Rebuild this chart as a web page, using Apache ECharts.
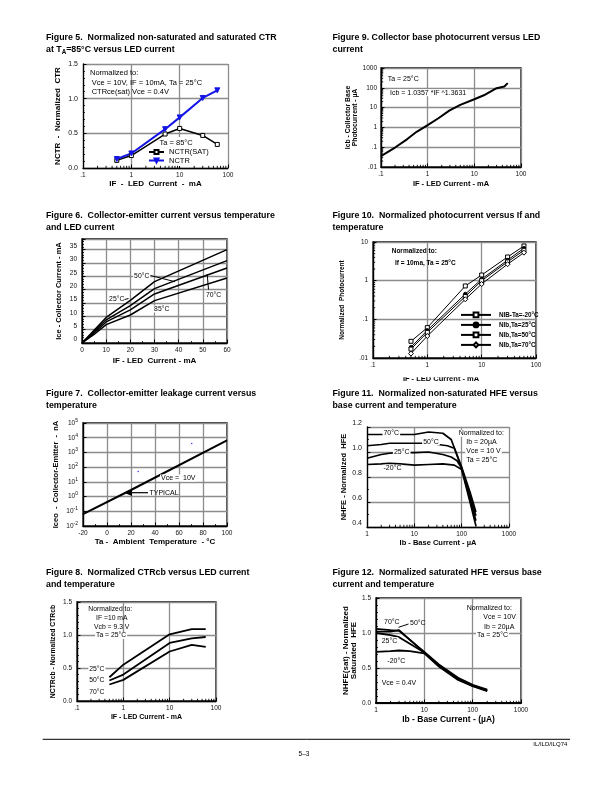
<!DOCTYPE html>
<html><head><meta charset="utf-8">
<script src="https://cdn.jsdelivr.net/npm/echarts@6/dist/echarts.min.js"></script>
<style>html,body{margin:0;padding:0;background:#fff}#c{width:612px;height:792px}</style>
</head><body><div id="c"></div>
<script>
// ---------------- DATA ----------------
// Figure 5
const fig5_if = [0.5, 1, 5, 10, 30, 60];
const fig5_nctrSat = [0.11, 0.18, 0.49, 0.57, 0.47, 0.34];
const fig5_nctr = [0.13, 0.21, 0.56, 0.73, 1.01, 1.12];
const fig5_xTicks = ['.1', '1', '10', '100'];
// Figure 9
const fig9_if = [0.1, 0.13, 0.2, 0.36, 0.58, 1, 1.7, 2.9, 5, 10, 16, 30, 44, 52];
const fig9_icb = [0.035, 0.052, 0.096, 0.25, 0.6, 1.3, 2.9, 7, 13.7, 26.5, 42, 96, 117, 173];
const fig9_xTicks = ['.1', '1', '10', '100'];
const fig9_yTicks = ['.01', '.1', '1', '10', '100', '1000'];
// Figure 6
const fig6_if = [0, 5, 10, 20, 30, 60];
const fig6_ice25 = [0, 4.8, 9.6, 16, 23, 35];
const fig6_ice50 = [0, 4.3, 8.7, 14, 20.4, 30.9];
const fig6_ice70 = [0, 3.8, 7.9, 12.4, 18.4, 28.1];
const fig6_ice85 = [0, 3.2, 6.9, 10.5, 15.9, 24.4];
// Figure 10
const fig10_if = [0.5, 1, 5, 10, 30, 60];
const fig10_m20 = [0.027, 0.061, 0.73, 1.4, 4.1, 7.9];
const fig10_25 = [0.019, 0.052, 0.45, 1.1, 3.4, 6.9];
const fig10_50 = [0.017, 0.046, 0.39, 1.0, 3.07, 6.1];
const fig10_70 = [0.013, 0.037, 0.33, 0.82, 2.67, 5.3];
const fig10_xTicks = ['.1', '1', '10', '100'];
const fig10_yTicks = ['.01', '.1', '1', '10'];
// Figure 7
const fig7_ta = [-20, 20, 100];
const fig7_iceo = [0.065, 2.8, 6700];
const fig7_dotsTa = [26, 70.6];
const fig7_dotsIceo = [51, 4000];
// Figure 11
const fig11_ib70 = [1, 2, 3, 5, 10, 20, 40, 60, 100, 150, 200];
const fig11_h70 = [1.14, 1.14, 1.14, 1.14, 1.14, 1.16, 1.15, 1.10, 0.88, 0.68, 0.52];
const fig11_ib50 = [1, 2, 3, 5, 10, 20, 50, 70, 100, 150, 200];
const fig11_h50 = [1.05, 1.06, 1.07, 1.07, 1.07, 1.07, 1.05, 1.03, 0.87, 0.65, 0.49];
const fig11_ib25 = [1, 2, 3, 5, 10, 20, 40, 60, 80, 100, 150, 200];
const fig11_h25 = [0.95, 0.98, 0.99, 0.995, 0.995, 1.0, 0.98, 0.96, 0.93, 0.87, 0.62, 0.45];
const fig11_ibm20 = [1, 2, 3, 5, 10, 20, 40, 70, 100, 150, 200];
const fig11_hm20 = [0.90, 0.905, 0.91, 0.905, 0.895, 0.90, 0.905, 0.895, 0.86, 0.60, 0.41];
const fig11_xTicks = ['1', '10', '100', '1000'];
// Figure 8
const fig8_if = [0.5, 1, 10, 30, 60];
const fig8_c25 = [0.36, 0.55, 1.01, 1.09, 1.09];
const fig8_c50 = [0.31, 0.40, 0.88, 0.95, 0.97];
const fig8_c70 = [0.25, 0.32, 0.75, 0.85, 0.82];
const fig8_xTicks = ['.1', '1', '10', '100'];
// Figure 12
const fig12_ib = [1, 2, 3, 10, 20, 50, 100, 200];
const fig12_h70 = [1.06, 1.04, 1.03, 0.73, 0.55, 0.36, 0.26, 0.19];
const fig12_h50 = [1.02, 1.02, 1.04, 0.72, 0.54, 0.35, 0.25, 0.18];
const fig12_h25 = [1.0, 0.97, 0.94, 0.72, 0.53, 0.34, 0.245, 0.175];
const fig12_ibm20 = [1, 2, 3, 5, 10, 20, 50, 100, 200];
const fig12_hm20 = [0.73, 0.74, 0.75, 0.74, 0.71, 0.52, 0.33, 0.24, 0.17];
const fig12_xTicks = ['1', '10', '100', '1000'];
// minor tick positions for log axes
const minor_01_100 = [0.2,0.3,0.4,0.5,0.6,0.7,0.8,0.9,2,3,4,5,6,7,8,9,20,30,40,50,60,70,80,90];
const minor_1_1000 = [2,3,4,5,6,7,8,9,20,30,40,50,60,70,80,90,200,300,400,500,600,700,800,900];
const minor_001_1000 = [0.02,0.03,0.04,0.05,0.06,0.07,0.08,0.09,0.2,0.3,0.4,0.5,0.6,0.7,0.8,0.9,2,3,4,5,6,7,8,9,20,30,40,50,60,70,80,90,200,300,400,500,600,700,800,900];
const minor_001_10 = [0.02,0.03,0.04,0.05,0.06,0.07,0.08,0.09,0.2,0.3,0.4,0.5,0.6,0.7,0.8,0.9,2,3,4,5,6,7,8,9];

// ---------------- BUILD ----------------
const FONT = '"Liberation Sans", Arial, Helvetica, sans-serif';
const grid = [], xAxis = [], yAxis = [], series = [], graphic = [], legend = [];

function logFmt(labels, min) {
  return v => { const i = Math.round(Math.log10(v) - Math.log10(min)); return labels[i] !== undefined ? labels[i] : ''; };
}
function mkAxis(gi, a, isX) {
  const o = {
    gridIndex: gi, type: a.type || 'value', min: a.min, max: a.max,
    position: isX ? 'bottom' : 'left',
    axisLine: { show: true, onZero: false, lineStyle: { color: '#000', width: a.lw || 1.3 } },
    axisTick: { show: true, inside: true, length: 3.5, lineStyle: { color: '#000', width: 1 } },
    axisLabel: { show: true, fontFamily: FONT, fontSize: a.fs || 6.5, color: '#111', margin: a.margin || (isX ? 4 : 5),
      formatter: a.fmt, showMinLabel: true, showMaxLabel: true, verticalAlign: a.va, rich: a.rich },
    splitLine: { show: true, lineStyle: { color: '#8c8c8c', width: 1.3 } },
    name: a.name, nameLocation: 'middle', nameGap: a.gap,
    nameTextStyle: { fontFamily: FONT, fontWeight: 'bold', fontSize: a.ns || 7.5, color: '#000', lineHeight: a.nlh },
    splitNumber: a.sn
  };
  if (a.type === 'log') o.logBase = 10;
  if (a.interval) o.interval = a.interval;
  if (!isX) o.nameRotate = 90;
  if (a.minor) o.minorTick = { show: true, splitNumber: a.minor, length: 2, lineStyle: { color: '#000', width: 0.8 } };
  return o;
}
function addPanel(d) {
  const gi = grid.length;
  grid.push({ left: d.g[0], top: d.g[1], width: d.g[2], height: d.g[3], show: !!d.box,
    borderColor: '#000', borderWidth: 1.3, backgroundColor: 'rgba(0,0,0,0)' });
  xAxis.push(mkAxis(gi, d.x, true));
  yAxis.push(mkAxis(gi, d.y, false));
  return gi;
}
function line(gi, name, xs, ys, o = {}) {
  series.push({ type: 'line', name, xAxisIndex: gi, yAxisIndex: gi,
    data: xs.map((x, i) => [x, ys[i]]),
    symbol: o.symbol || 'none', showSymbol: !!o.symbol, symbolSize: o.size || 4, symbolRotate: o.rot || 0,
    lineStyle: { color: o.color || '#000', width: o.width || 1.5 },
    itemStyle: { color: o.fill || o.color || '#000', borderColor: o.color || '#000', borderWidth: 1 },
    silent: true, animation: false, z: o.z || 2, smooth: o.smooth || false });
}
function minorTicks(gi, values, axis, anchor) {
  series.push({ type: 'custom', xAxisIndex: gi, yAxisIndex: gi, silent: true, z: 3, animation: false, clip: false,
    data: values.map(v => axis === 'x' ? [v, anchor] : [anchor, v]),
    renderItem: (params, api) => {
      const p = api.coord([api.value(0), api.value(1)]);
      const L = 2.2;
      return { type: 'line', shape: axis === 'x' ? { x1: p[0], y1: p[1], x2: p[0], y2: p[1] - L } : { x1: p[0], y1: p[1], x2: p[0] + L, y2: p[1] },
        style: { stroke: '#000', lineWidth: 0.9 } };
    } });
}
function T(x, y, text, o = {}) {
  graphic.push({ type: 'text', z: o.z || 100, silent: true,
    style: { x, y, text, fontSize: o.size || 7, fontFamily: FONT, fontWeight: o.bold ? 'bold' : 'normal', fill: '#000',
      align: o.align || 'left', verticalAlign: 'middle',
      backgroundColor: o.bg ? '#fff' : null, padding: o.bg ? [0, 1, 0, 1] : 0, rich: o.rich } });
}
function L(x1, y1, x2, y2, w) {
  graphic.push({ type: 'line', z: 101, silent: true, shape: { x1, y1, x2, y2 }, style: { stroke: '#000', lineWidth: w || 1 } });
}
function R(x, y, w, h, z) {
  graphic.push({ type: 'rect', z: z || 1, silent: true, shape: { x, y, width: w, height: h }, style: { fill: '#fff' } });
}

// ---- Titles ----
const titleRich = { sub: { fontSize: 6.3, fontWeight: 'bold', fontFamily: FONT, padding: [5, 0, 0, 0] } };
function title(x, y, l1, l2) {
  T(x, y, l1, { size: 8.8, bold: true });
  T(x, y + 12, l2, { size: 8.8, bold: true, rich: titleRich });
}
title(46, 37.5, 'Figure 5.  Normalized non-saturated and saturated CTR', 'at T{sub|A}=85°C versus LED current');
title(332.5, 37.5, 'Figure 9. Collector base photocurrent versus LED', 'current');
title(46, 216, 'Figure 6.  Collector-emitter current versus temperature', 'and LED current');
title(332.5, 216, 'Figure 10.  Normalized photocurrent versus If and', 'temperature');
title(46, 394, 'Figure 7.  Collector-emitter leakage current versus', 'temperature');
title(332.5, 394, 'Figure 11.  Normalized non-saturated HFE versus', 'base current and temperature');
title(46, 572.5, 'Figure 8.  Normalized CTRcb versus LED current', 'and temperature');
title(332.5, 572.5, 'Figure 12.  Normalized saturated HFE versus base', 'current and temperature');

// ---- Figure 5 ----
let g = addPanel({ g: [83, 64, 145, 104],
  x: { type: 'log', min: 0.1, max: 100, fmt: logFmt(fig5_xTicks, 0.1), name: 'IF  -  LED  Current  -  mA', gap: 11, ns: 8 },
  y: { min: 0, max: 1.5, interval: 0.5, minor: 5, fmt: v => v.toFixed(1), name: 'NCTR  -  Normalized  CTR', gap: 21.5, ns: 8, fs: 7 } });
minorTicks(g, minor_01_100, 'x', 0);
line(g, 'NCTR(SAT)', fig5_if, fig5_nctrSat, { symbol: 'rect', size: 4, fill: '#fff', width: 1.5 });
line(g, 'NCTR', fig5_if, fig5_nctr, { symbol: 'triangle', rot: 180, size: 5, color: '#1414e6', width: 2 });
R(147, 137, 64, 29, 1);
legend.push({ left: 148, top: 148, orient: 'vertical', itemWidth: 15, itemHeight: 5, itemGap: 0.5, padding: 0,
  selectedMode: false, data: ['NCTR(SAT)', 'NCTR'],
  textStyle: { fontFamily: FONT, fontSize: 7.5, lineHeight: 8, color: '#000' } });
T(159.5, 142.7, 'Ta = 85°C', { size: 7.5 });
T(90, 73.3, 'Normalized to:', { size: 7.5 });
T(91.7, 82.7, 'Vce = 10V, IF = 10mA, Ta = 25°C', { size: 7.5 });
T(91.7, 92, 'CTRce(sat) Vce = 0.4V', { size: 7.5 });

// ---- Figure 9 ----
g = addPanel({ g: [381, 68, 140, 99], box: true,
  x: { type: 'log', min: 0.1, max: 100, fmt: logFmt(fig9_xTicks, 0.1), name: 'IF - LED Current - mA', gap: 13, ns: 7.5 },
  y: { type: 'log', min: 0.01, max: 1000, fmt: logFmt(fig9_yTicks, 0.01), name: 'Icb - Collector Base\nPhotocurrent - µA', gap: 22, ns: 6.8, nlh: 7, margin: 4 } });
minorTicks(g, minor_01_100, 'x', 0.01);
minorTicks(g, minor_001_1000, 'y', 0.1);
line(g, 'Icb', fig9_if, fig9_icb, { width: 2 });
T(386.7, 79.3, 'Ta = 25°C', { size: 7, bg: true });
T(389, 92.7, 'Icb = 1.0357 *IF ^1.3631', { size: 7, bg: true });

// ---- Figure 6 ----
g = addPanel({ g: [82, 239, 145, 104], box: true,
  x: { min: 0, max: 60, interval: 10, minor: 2, name: 'IF - LED  Current - mA', gap: 13.5, ns: 8 },
  y: { min: 0, max: 39, interval: 5, minor: 5, fmt: v => (v % 5 === 0 ? String(v) : ''), va: 'bottom', name: 'Ice - Collector Current - mA', gap: 19.5, ns: 7.5 } });
line(g, '25°C', fig6_if, fig6_ice25, { width: 1.5 });
line(g, '50°C', fig6_if, fig6_ice50, { width: 1.5 });
line(g, '70°C', fig6_if, fig6_ice70, { width: 1.5 });
line(g, '85°C', fig6_if, fig6_ice85, { width: 1.5 });
T(141.7, 275.7, '50°C', { size: 6.8, align: 'center', bg: true });
L(150.5, 275.5, 175, 281.7);
T(116.7, 299.5, '25°C', { size: 6.8, align: 'center', bg: true });
L(124.5, 299.5, 128.5, 298.5);
T(213.5, 295, '70°C', { size: 6.8, align: 'center', bg: true });
L(208.5, 289.5, 207.2, 274);
T(161.7, 309, '85°C', { size: 6.8, align: 'center', bg: true });

// ---- Figure 10 ----
g = addPanel({ g: [373, 242, 163, 116], box: true,
  x: { type: 'log', min: 0.1, max: 100, fmt: logFmt(fig10_xTicks, 0.1), fs: 6.3 },
  y: { type: 'log', min: 0.01, max: 10, fmt: logFmt(fig10_yTicks, 0.01), fs: 6.3, name: 'Normalized  Photocurrent', gap: 27, ns: 6.5 } });
minorTicks(g, minor_01_100, 'x', 0.01);
minorTicks(g, minor_001_10, 'y', 0.1);
line(g, 'NIB-Ta=-20°C', fig10_if, fig10_m20, { symbol: 'rect', size: 4, fill: '#fff', width: 1 });
line(g, 'NIb,Ta=25°C', fig10_if, fig10_25, { symbol: 'circle', size: 3.5, width: 1 });
line(g, 'NIb,Ta=50°C', fig10_if, fig10_50, { symbol: 'rect', size: 4, fill: '#fff', width: 1 });
line(g, 'NIb,Ta=70°C', fig10_if, fig10_70, { symbol: 'diamond', size: 5, fill: '#fff', width: 1 });
legend.push({ left: 460, top: 311.5, orient: 'vertical', itemWidth: 30, itemHeight: 6, itemGap: 3.2, padding: 0,
  selectedMode: false, data: ['NIB-Ta=-20°C', 'NIb,Ta=25°C', 'NIb,Ta=50°C', 'NIb,Ta=70°C'],
  textStyle: { fontFamily: FONT, fontSize: 6.3, fontWeight: 'bold', color: '#000', padding: [0, 0, 0, 3] } });
T(391.7, 251, 'Normalized to:', { size: 6.5, bold: true });
T(395, 263.3, 'If = 10ma, Ta = 25°C', { size: 6.5, bold: true });
T(441, 378.5, 'IF - LED Current - mA', { size: 7.5, bold: true, align: 'center' });
R(400, 372, 90, 5.3, 120);

// ---- Figure 7 ----
g = addPanel({ g: [83, 423, 144, 103], box: true,
  x: { min: -20, max: 100, interval: 20, minor: 2, name: 'Ta -  Ambient  Temperature  - °C', gap: 11.5, ns: 8 },
  y: { type: 'log', min: 0.01, max: 100000, fmt: v => '10{s|' + Math.round(Math.log10(v)) + '}',
    rich: { s: { fontSize: 5, padding: [0, 0, 5, 0], fontFamily: FONT, color: '#111' } },
    name: 'Iceo  -  Collector-Emitter  -  nA', gap: 23, ns: 7.5, sn: 7 } });
line(g, 'Iceo', fig7_ta, fig7_iceo, { width: 2 });
series.push({ type: 'scatter', xAxisIndex: g, yAxisIndex: g, silent: true, animation: false,
  data: fig7_dotsTa.map((x, i) => [x, fig7_dotsIceo[i]]), symbolSize: 1.6, itemStyle: { color: '#1a1aff' } });
T(160, 478, 'Vce =  10V', { size: 7, bg: true });
T(149.5, 492.7, 'TYPICAL', { size: 7 });
L(148, 492.7, 130, 492.7, 1.2);
graphic.push({ type: 'polygon', z: 101, silent: true, shape: { points: [[124, 492.7], [132, 489.3], [132, 496.1]] }, style: { fill: '#000' } });

// ---- Figure 11 ----
g = addPanel({ g: [367, 427, 142, 100],
  x: { type: 'log', min: 1, max: 1000, fmt: logFmt(fig11_xTicks, 1), name: 'Ib - Base Current - µA', gap: 10.5, ns: 7.5 },
  y: { min: 0.4, max: 1.2, interval: 0.2, minor: 2, fmt: v => v.toFixed(1), va: 'bottom', fs: 7, name: 'NHFE - Normalized  HFE', gap: 18, ns: 7.5 } });
minorTicks(g, minor_1_1000, 'x', 0.4);
line(g, '70°C ', fig11_ib70, fig11_h70, { width: 1.7 });
line(g, '50°C ', fig11_ib50, fig11_h50, { width: 1.7 });
line(g, '25°C ', fig11_ib25, fig11_h25, { width: 1.7 });
line(g, '-20°C ', fig11_ibm20, fig11_hm20, { width: 1.7 });
T(391.3, 433.5, '70°C', { size: 7, align: 'center', bg: true });
T(431, 441.7, '50°C', { size: 7, align: 'center', bg: true });
T(401.7, 451.7, '25°C', { size: 7, align: 'center', bg: true });
T(392.5, 468.3, '-20°C', { size: 7, align: 'center', bg: true });
T(457.7, 433.3, 'Normalized to:', { size: 7, bg: true });
T(465.3, 442.3, 'Ib = 20µA', { size: 7, bg: true });
T(465.3, 451.3, 'Vce = 10 V', { size: 7, bg: true });
T(465.3, 460.2, 'Ta = 25°C', { size: 7, bg: true });

// ---- Figure 8 ----
g = addPanel({ g: [77, 602, 139, 99], box: true,
  x: { type: 'log', min: 0.1, max: 100, fmt: logFmt(fig8_xTicks, 0.1), name: 'IF - LED Current - mA', gap: 12.5, ns: 7 },
  y: { min: 0, max: 1.5, interval: 0.5, minor: 5, fmt: v => v.toFixed(1), name: 'NCTRcb - Normalized CTRcb', gap: 20, ns: 6.8 } });
minorTicks(g, minor_01_100, 'x', 0);
line(g, 'CTRcb 25°C', fig8_if, fig8_c25, { width: 1.8 });
line(g, 'CTRcb 50°C', fig8_if, fig8_c50, { width: 1.8 });
line(g, 'CTRcb 70°C', fig8_if, fig8_c70, { width: 1.8 });
T(88.3, 609.3, 'Normalized to:', { size: 6.8 });
T(96, 618.3, 'IF =10 mA', { size: 6.8 });
T(94, 626.7, 'Vcb = 9.3 V', { size: 6.8 });
T(95, 635.5, 'Ta = 25°C', { size: 6.8, bg: true });
T(88.3, 669, '25°C', { size: 6.8, bg: true });
T(88.3, 680.5, '50°C', { size: 6.8, bg: true });
T(88.3, 691.7, '70°C', { size: 6.8, bg: true });

// ---- Figure 12 ----
g = addPanel({ g: [376, 598, 145, 105], box: true,
  x: { type: 'log', min: 1, max: 1000, fmt: logFmt(fig12_xTicks, 1), lw: 2, name: 'Ib - Base Current - (µA)', gap: 9.5, ns: 8.5 },
  y: { min: 0, max: 1.5, interval: 0.5, minor: 5, fmt: v => v.toFixed(1), name: 'NHFE(sat) - Normalized\nSaturated  HFE', gap: 16.5, ns: 8, nlh: 8 } });
minorTicks(g, minor_1_1000, 'x', 0);
line(g, 'sat 70°C', fig12_ib, fig12_h70, { width: 1.8 });
line(g, 'sat 50°C', fig12_ib, fig12_h50, { width: 1.8 });
line(g, 'sat 25°C', fig12_ib, fig12_h25, { width: 1.8 });
line(g, 'sat -20°C', fig12_ibm20, fig12_hm20, { width: 1.8 });
T(384, 621.7, '70°C', { size: 7 });
T(410, 623.3, '50°C', { size: 7 });
L(398.5, 627.3, 408.5, 624);
T(380.7, 640.7, '25°C', { size: 7, bg: true });
T(387.3, 660.7, '-20°C', { size: 7 });
T(381.7, 682.7, 'Vce = 0.4V', { size: 7 });
T(466.7, 608.3, 'Normalized to:', { size: 7 });
T(483.3, 617.3, 'Vce = 10V', { size: 7 });
T(484, 626.7, 'Ib = 20µA', { size: 7 });
T(476, 635.5, 'Ta = 25°C', { size: 7, bg: true });

// ---- Footer ----
L(42.7, 739.3, 570, 739.3, 1);
T(567.3, 744.3, 'IL/ILD/ILQ74', { size: 6, align: 'right' });
T(304, 754, '5–3', { size: 6.5, align: 'center' });

const chart = echarts.init(document.getElementById('c'), null, { renderer: 'canvas' });
chart.setOption({ animation: false, backgroundColor: '#fff', grid, xAxis, yAxis, series, legend, graphic: { elements: graphic } });
</script></body></html>
